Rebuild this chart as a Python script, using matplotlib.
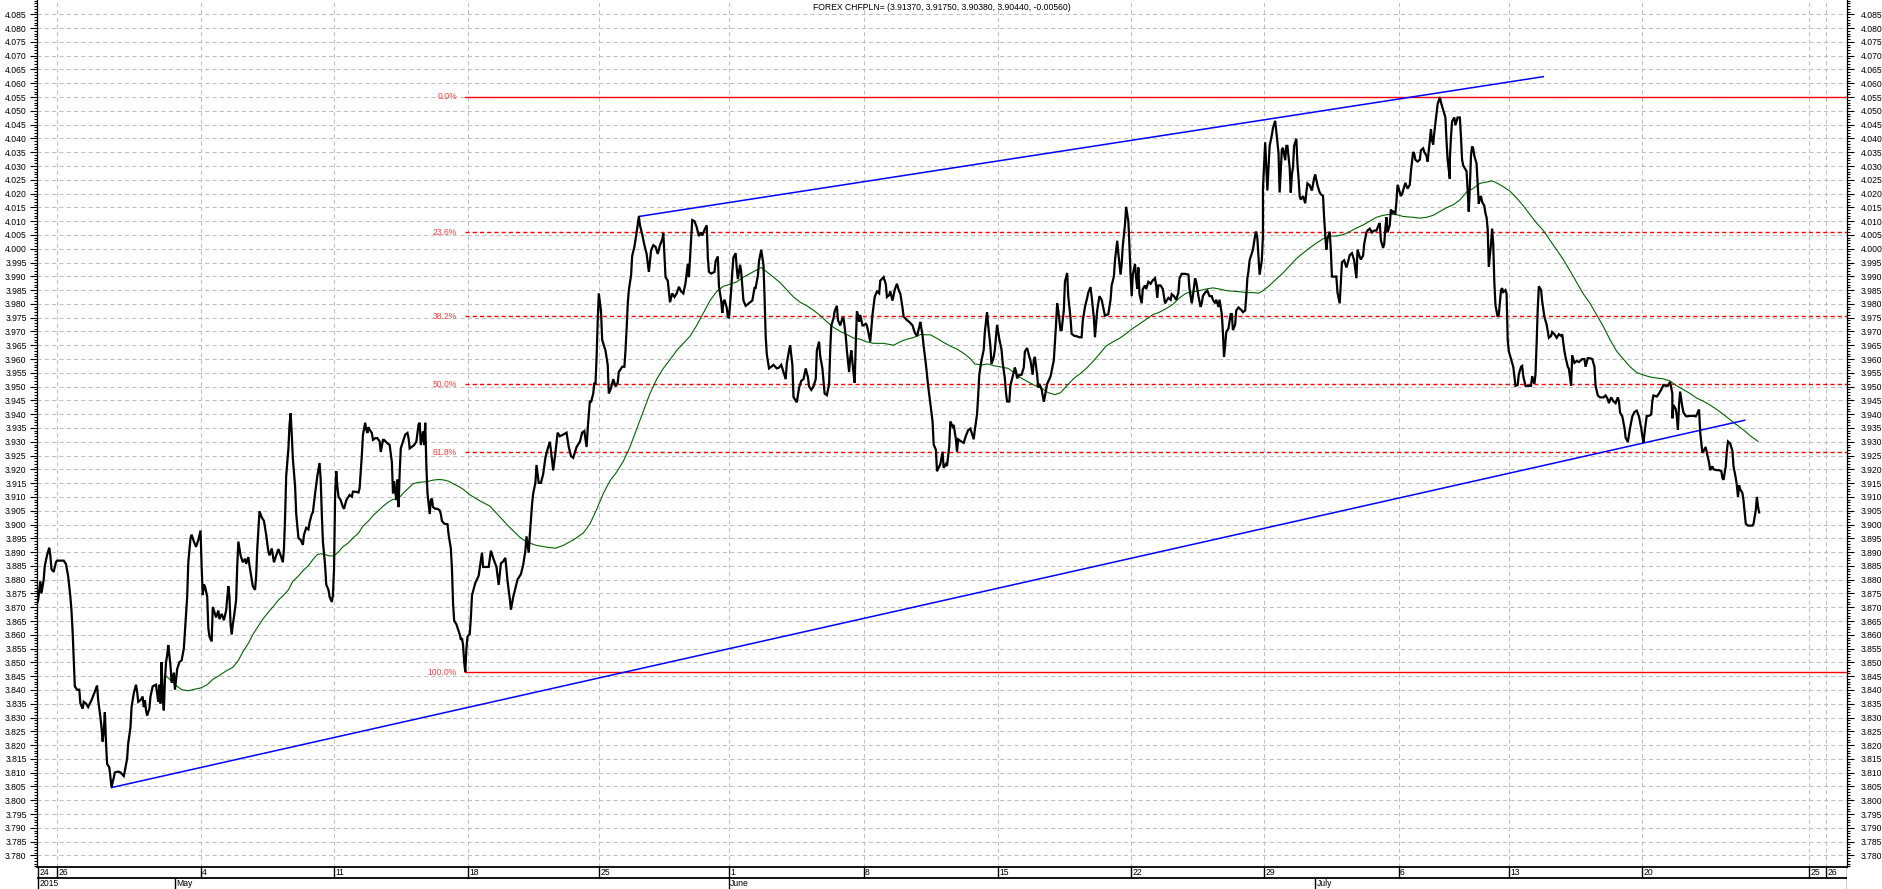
import matplotlib.pyplot as plt
from matplotlib.ticker import MultipleLocator, FixedLocator, FormatStrFormatter

plt.rcParams['font.family'] = ['Liberation Sans', 'DejaVu Sans']

# hourly bars, x = bar number since the first bar (24 Apr 2015)
# (bar, close), split by stretch of time
close_apr_may = [
    (0, 3.8713), (1, 3.8726), (3, 3.8794), (4, 3.8750), (6, 3.8800), (7, 3.8850), (9, 3.8888),
    (11, 3.8916), (12, 3.8888), (13, 3.8838), (15, 3.8828), (17, 3.8863), (18, 3.8869), (24, 3.8869),
    (26, 3.8857), (28, 3.8813), (30, 3.8738), (31, 3.8688), (32, 3.8613), (33, 3.8513), (34, 3.8413),
    (36, 3.8401), (38, 3.8401), (39, 3.8351), (41, 3.8332), (42, 3.8357), (44, 3.8351), (46, 3.8338),
    (49, 3.8363), (52, 3.8394), (54, 3.8416), (55, 3.8363), (57, 3.8301), (58, 3.8263), (59, 3.8213),
    (60, 3.8251), (61, 3.8319), (62, 3.8213), (63, 3.8132), (65, 3.8119), (66, 3.8082), (67, 3.8048),
    (69, 3.8082), (70, 3.8101), (73, 3.8104), (75, 3.8101), (78, 3.8088), (79, 3.8107), (81, 3.8151),
    (82, 3.8207), (84, 3.8263), (85, 3.8338), (87, 3.8388), (89, 3.8419), (90, 3.8394), (91, 3.8357),
    (93, 3.8363), (95, 3.8376), (96, 3.8338), (97, 3.8363), (98, 3.8326), (99, 3.8307), (101, 3.8332),
    (102, 3.8376), (104, 3.8413), (107, 3.8419), (109, 3.8357), (110, 3.8419), (111, 3.8351),
    (112, 3.8501), (113, 3.8376), (114, 3.8326), (115, 3.8438), (116, 3.8501), (117, 3.8526),
    (118, 3.8563), (120, 3.8488), (121, 3.8426), (123, 3.8463), (124, 3.8401), (126, 3.8476),
    (127, 3.8488), (128, 3.8501), (130, 3.8507), (132, 3.8551), (133, 3.8613), (134, 3.8676),
    (135, 3.8738), (136, 3.8863), (138, 3.8951), (139, 3.8963), (141, 3.8938), (143, 3.8919),
    (145, 3.8944), (147, 3.8978), (148, 3.8844), (149, 3.8744), (150, 3.8782), (151, 3.8776),
    (153, 3.8738), (154, 3.8626), (155, 3.8594), (157, 3.8576), (158, 3.8701), (160, 3.8676),
    (161, 3.8663), (163, 3.8688), (164, 3.8657), (166, 3.8676), (168, 3.8653), (170, 3.8688),
    (172, 3.8776), (173, 3.8738), (174, 3.8638), (175, 3.8601), (176, 3.8638), (177, 3.8663),
    (179, 3.8726), (180, 3.8851), (181, 3.8938), (183, 3.8888), (185, 3.8863), (187, 3.8876),
    (188, 3.8857), (190, 3.8882), (191, 3.8851), (193, 3.8801), (194, 3.8776), (196, 3.8763),
    (197, 3.8813), (198, 3.8913), (200, 3.9048), (202, 3.9026), (204, 3.9013), (206, 3.8963),
    (208, 3.8901), (209, 3.8888), (211, 3.8913), (213, 3.8863), (215, 3.8888), (217, 3.8911),
    (219, 3.8888), (221, 3.8863), (222, 3.8913), (223, 3.9026), (224, 3.9176), (226, 3.9276),
    (227, 3.9363), (228, 3.9403), (229, 3.9326), (230, 3.9238), (232, 3.9138), (233, 3.9038),
    (235, 3.8951), (237, 3.8944), (239, 3.8926), (240, 3.8963), (242, 3.8988), (244, 3.8982),
    (245, 3.9007), (247, 3.9038), (248, 3.9044), (250, 3.9113), (252, 3.9176), (254, 3.9223),
    (255, 3.9163), (256, 3.9038), (257, 3.8938), (259, 3.8851), (260, 3.8782), (262, 3.8763),
    (263, 3.8738), (265, 3.8719), (266, 3.8744), (267, 3.8838), (268, 3.9113), (269, 3.9194),
    (270, 3.9138), (271, 3.9101), (273, 3.9088), (275, 3.9063), (276, 3.9057), (278, 3.9088),
    (280, 3.9101), (281, 3.9107), (283, 3.9101), (284, 3.9119), (286, 3.9119), (289, 3.9116),
    (290, 3.9132), (292, 3.9251), (293, 3.9326), (295, 3.9369), (296, 3.9344), (297, 3.9332),
    (298, 3.9353), (299, 3.9344), (301, 3.9332), (302, 3.9307), (304, 3.9313), (306, 3.9313),
    (308, 3.9301), (309, 3.9263), (311, 3.9307), (312, 3.9307), (314, 3.9298), (317, 3.9288),
    (319, 3.9226), (320, 3.9113), (321, 3.9157), (323, 3.9088), (324, 3.9163), (325, 3.9063),
    (326, 3.9188), (327, 3.9276), (329, 3.9301), (331, 3.9326), (333, 3.9332), (334, 3.9313),
    (335, 3.9276), (337, 3.9282), (339, 3.9288), (341, 3.9301), (343, 3.9363), (344, 3.9369),
    (345, 3.9288), (347, 3.9338), (348, 3.9288), (349, 3.9369), (350, 3.9213), (351, 3.9113),
    (353, 3.9038), (354, 3.9088), (355, 3.9094), (356, 3.9063), (358, 3.9057), (360, 3.9057),
    (362, 3.9051), (363, 3.9038), (364, 3.9013), (366, 3.9003), (369, 3.9001), (370, 3.8963),
    (372, 3.8913), (373, 3.8838), (374, 3.8713), (375, 3.8651), (377, 3.8638), (378, 3.8626),
    (380, 3.8601), (381, 3.8582), (382, 3.8588), (383, 3.8563), (384, 3.8501), (385, 3.8465),
    (386, 3.8551), (387, 3.8594), (389, 3.8603), (390, 3.8663),
]

close_may_jun = [
    (391, 3.8743), (394, 3.8788), (397, 3.8814), (400, 3.8898), (401, 3.8846), (406, 3.8846),
    (408, 3.8905), (410, 3.8879), (413, 3.8846), (415, 3.8781), (417, 3.8859), (419, 3.8866),
    (421, 3.8879), (423, 3.8794), (425, 3.8730), (426, 3.8691), (428, 3.8736), (430, 3.8768),
    (432, 3.8801), (435, 3.8820), (437, 3.8853), (439, 3.8905), (440, 3.8957), (442, 3.8898),
    (443, 3.8963), (445, 3.9073), (446, 3.9112), (448, 3.9151), (449, 3.9216), (451, 3.9151),
    (453, 3.9151), (455, 3.9183), (457, 3.9242), (459, 3.9274), (461, 3.9300), (462, 3.9268),
    (464, 3.9196), (466, 3.9261), (468, 3.9333), (470, 3.9320), (473, 3.9326), (476, 3.9333),
    (478, 3.9281), (480, 3.9248), (482, 3.9242), (485, 3.9281), (488, 3.9300), (490, 3.9333),
    (492, 3.9339), (494, 3.9281), (495, 3.9346), (497, 3.9449), (498, 3.9443), (500, 3.9475),
    (501, 3.9514), (502, 3.9508), (503, 3.9605), (504, 3.9735), (505, 3.9838), (507, 3.9773),
    (508, 3.9670), (511, 3.9631), (513, 3.9579), (514, 3.9475), (516, 3.9495), (518, 3.9527),
    (520, 3.9501), (522, 3.9514), (523, 3.9553), (526, 3.9572), (528, 3.9572), (529, 3.9631),
    (530, 3.9709), (531, 3.9799), (532, 3.9851), (534, 3.9903), (535, 3.9974), (537, 4.0007),
    (539, 4.0059), (541, 4.0117), (542, 4.0085), (544, 4.0052), (546, 4.0013), (548, 3.9981),
    (550, 3.9916), (552, 3.9994), (554, 4.0013), (556, 4.0007), (558, 3.9981), (560, 4.0013),
    (562, 4.0033), (563, 4.0056), (565, 3.9897), (567, 3.9884), (569, 3.9806), (571, 3.9838),
    (573, 3.9825), (575, 3.9838), (577, 3.9862), (579, 3.9845), (581, 3.9838), (583, 3.9877),
    (585, 3.9945), (586, 3.9897), (587, 3.9968), (588, 4.0046), (589, 4.0104), (591, 4.0100),
    (593, 4.0078), (595, 4.0046), (597, 4.0059), (598, 4.0048), (600, 4.0069), (602, 4.0085),
    (603, 3.9968), (604, 3.9916), (606, 3.9910), (609, 3.9916), (610, 3.9955), (612, 3.9972),
    (613, 3.9864), (615, 3.9812), (616, 3.9767), (617, 3.9806), (618, 3.9815), (620, 3.9786),
    (621, 3.9754), (622, 3.9748), (624, 3.9851), (625, 3.9916), (626, 3.9968), (628, 3.9984),
    (629, 3.9929), (630, 3.9890), (632, 3.9942), (633, 3.9916), (635, 3.9812), (637, 3.9793),
    (639, 3.9799), (641, 3.9806), (643, 3.9812), (645, 3.9858), (646, 3.9858), (648, 3.9903),
    (649, 3.9955), (651, 3.9996), (653, 3.9942), (654, 3.9825), (655, 3.9683), (656, 3.9618),
    (658, 3.9566), (660, 3.9572), (662, 3.9579), (665, 3.9566), (667, 3.9569), (669, 3.9579),
    (671, 3.9553), (673, 3.9527), (674, 3.9585), (676, 3.9631), (677, 3.9650), (679, 3.9579),
    (680, 3.9462), (682, 3.9449), (683, 3.9443), (685, 3.9495), (687, 3.9521), (689, 3.9527),
    (691, 3.9566), (693, 3.9534), (694, 3.9501), (696, 3.9488), (698, 3.9501), (700, 3.9527),
    (701, 3.9631), (703, 3.9663), (704, 3.9611), (706, 3.9566), (708, 3.9475), (710, 3.9469),
    (712, 3.9508), (713, 3.9631), (714, 3.9722), (716, 3.9748), (717, 3.9773), (719, 3.9793),
    (720, 3.9741), (722, 3.9722), (724, 3.9748), (725, 3.9748), (727, 3.9683), (728, 3.9631),
    (730, 3.9553), (731, 3.9605), (732, 3.9631), (734, 3.9547), (735, 3.9514), (736, 3.9657),
    (737, 3.9773), (738, 3.9760), (739, 3.9735), (740, 3.9760), (742, 3.9722), (743, 3.9722),
    (745, 3.9728), (746, 3.9722), (748, 3.9683), (749, 3.9663), (751, 3.9760), (753, 3.9825),
    (755, 3.9845), (757, 3.9838), (758, 3.9884), (761, 3.9897), (763, 3.9871), (764, 3.9825),
    (766, 3.9832), (767, 3.9845), (769, 3.9812), (771, 3.9851), (773, 3.9873), (775, 3.9845),
    (776, 3.9838), (778, 3.9786), (779, 3.9754), (782, 3.9741), (784, 3.9735), (787, 3.9722),
    (789, 3.9696), (791, 3.9683), (793, 3.9715), (794, 3.9735),
]

close_jun_jul = [
    (796, 3.9686), (797, 3.9647), (799, 3.9582), (801, 3.9504), (803, 3.9439), (805, 3.9374),
    (806, 3.9290), (808, 3.9271), (809, 3.9193), (812, 3.9219), (814, 3.9264), (815, 3.9206),
    (817, 3.9219), (818, 3.9212), (820, 3.9283), (821, 3.9374), (823, 3.9355), (824, 3.9361),
    (826, 3.9309), (827, 3.9264), (828, 3.9309), (830, 3.9303), (833, 3.9296), (835, 3.9322),
    (837, 3.9342), (839, 3.9348), (841, 3.9322), (842, 3.9309), (843, 3.9342), (845, 3.9400),
    (846, 3.9465), (847, 3.9543), (849, 3.9595), (851, 3.9634), (852, 3.9698), (854, 3.9770),
    (855, 3.9724), (857, 3.9647), (858, 3.9582), (860, 3.9608), (861, 3.9634), (863, 3.9724),
    (865, 3.9673), (867, 3.9634), (868, 3.9588), (870, 3.9530), (871, 3.9478), (872, 3.9446),
    (874, 3.9446), (875, 3.9504), (877, 3.9536), (879, 3.9569), (880, 3.9556), (881, 3.9530),
    (883, 3.9543), (885, 3.9543), (887, 3.9569), (888, 3.9627), (890, 3.9640), (892, 3.9608),
    (893, 3.9595), (895, 3.9543), (896, 3.9595), (897, 3.9608), (899, 3.9543), (900, 3.9497),
    (901, 3.9510), (903, 3.9491), (905, 3.9446), (906, 3.9465), (908, 3.9510), (911, 3.9536),
    (912, 3.9556), (914, 3.9595), (915, 3.9660), (916, 3.9724), (917, 3.9802), (918, 3.9776),
    (920, 3.9705), (921, 3.9705), (923, 3.9776), (924, 3.9880), (926, 3.9912), (927, 3.9828),
    (929, 3.9750), (930, 3.9692), (932, 3.9685), (935, 3.9682), (937, 3.9679), (939, 3.9679),
    (940, 3.9737), (942, 3.9789), (944, 3.9822), (945, 3.9841), (947, 3.9861), (948, 3.9828),
    (950, 3.9750), (951, 3.9679), (953, 3.9776), (955, 3.9828), (957, 3.9815), (959, 3.9776),
    (960, 3.9757), (963, 3.9763), (965, 3.9815), (966, 3.9867), (968, 3.9899), (969, 3.9958),
    (971, 4.0029), (972, 3.9984), (973, 3.9945), (974, 3.9906), (975, 3.9945), (976, 4.0010),
    (978, 4.0088), (979, 4.0152), (981, 4.0100), (982, 4.0010), (983, 3.9906), (984, 3.9828),
    (985, 3.9906), (987, 3.9945), (988, 3.9893), (989, 3.9854), (990, 3.9932), (991, 3.9835),
    (993, 3.9802), (994, 3.9854), (996, 3.9867), (997, 3.9854), (999, 3.9880), (1001, 3.9873),
    (1003, 3.9886), (1005, 3.9893), (1006, 3.9867), (1007, 3.9822), (1008, 3.9867), (1010, 3.9867),
    (1012, 3.9854), (1014, 3.9802), (1015, 3.9809), (1017, 3.9822), (1019, 3.9815), (1020, 3.9835),
    (1022, 3.9828), (1024, 3.9815), (1026, 3.9841), (1027, 3.9893), (1029, 3.9909), (1032, 3.9909),
    (1035, 3.9906), (1036, 3.9854), (1038, 3.9802), (1039, 3.9828), (1041, 3.9893), (1042, 3.9880),
    (1044, 3.9828), (1046, 3.9789), (1047, 3.9802), (1048, 3.9828), (1050, 3.9841), (1052, 3.9848),
    (1054, 3.9828), (1056, 3.9828), (1057, 3.9815), (1059, 3.9802), (1060, 3.9815), (1062, 3.9789),
    (1063, 3.9815), (1065, 3.9763), (1066, 3.9698), (1067, 3.9608), (1068, 3.9647), (1069, 3.9698),
    (1071, 3.9711), (1073, 3.9763), (1074, 3.9763), (1075, 3.9705), (1077, 3.9724), (1078, 3.9776),
    (1080, 3.9787), (1083, 3.9776), (1084, 3.9770), (1086, 3.9776), (1087, 3.9828), (1088, 3.9893),
    (1089, 3.9919), (1090, 3.9958), (1092, 3.9984), (1093, 3.9997), (1095, 4.0049), (1096, 4.0062),
    (1097, 4.0036), (1098, 3.9971), (1099, 3.9906), (1101, 3.9958), (1102, 4.0049), (1102, 4.0217),
    (1104, 4.0386), (1105, 4.0295), (1106, 4.0211), (1107, 4.0295), (1108, 4.0373), (1110, 4.0412),
    (1111, 4.0438), (1113, 4.0464), (1114, 4.0425), (1116, 4.0347), (1117, 4.0204), (1118, 4.0282),
    (1119, 4.0360), (1120, 4.0366), (1122, 4.0321), (1123, 4.0373), (1124, 4.0373), (1126, 4.0295),
    (1127, 4.0204), (1128, 4.0269), (1129, 4.0295), (1130, 4.0373), (1132, 4.0399), (1133, 4.0308),
    (1134, 4.0256), (1135, 4.0191), (1136, 4.0178), (1138, 4.0191), (1140, 4.0165), (1141, 4.0204),
    (1142, 4.0237), (1144, 4.0230), (1146, 4.0211), (1148, 4.0256), (1149, 4.0269), (1151, 4.0230),
    (1153, 4.0204), (1154, 4.0198), (1156, 4.0191), (1157, 4.0113), (1158, 4.0049), (1159, 3.9997),
    (1160, 4.0036), (1162, 4.0062), (1163, 3.9997), (1164, 3.9899), (1166, 3.9899), (1168, 3.9899),
    (1169, 3.9841), (1171, 3.9802), (1172, 3.9880), (1173, 3.9951), (1175, 3.9958), (1177, 3.9932),
    (1178, 3.9945), (1180, 3.9977), (1182, 3.9984), (1184, 3.9958), (1186, 3.9893), (1187, 3.9997),
    (1189, 3.9971),
]

close_jul = [
    (1190, 3.9961), (1192, 3.9975), (1193, 4.0017), (1195, 4.0059), (1196, 4.0066), (1198, 4.0073),
    (1200, 4.0059), (1202, 4.0066), (1204, 4.0066), (1206, 4.0086), (1207, 4.0093), (1208, 4.0031),
    (1210, 4.0003), (1211, 4.0017), (1212, 4.0073), (1213, 4.0114), (1214, 4.0059), (1216, 4.0086),
    (1217, 4.0142), (1218, 4.0128), (1219, 4.0135), (1221, 4.0128), (1222, 4.0170), (1223, 4.0232),
    (1225, 4.0205), (1226, 4.0191), (1227, 4.0198), (1229, 4.0225), (1230, 4.0239), (1232, 4.0218),
    (1234, 4.0232), (1235, 4.0281), (1237, 4.0351), (1238, 4.0344), (1239, 4.0323), (1241, 4.0316),
    (1243, 4.0323), (1244, 4.0357), (1246, 4.0364), (1247, 4.0351), (1249, 4.0337), (1250, 4.0316),
    (1252, 4.0392), (1253, 4.0434), (1254, 4.0392), (1255, 4.0378), (1256, 4.0420), (1258, 4.0489),
    (1259, 4.0524), (1261, 4.0550), (1262, 4.0531), (1264, 4.0503), (1266, 4.0476), (1267, 4.0392),
    (1268, 4.0323), (1270, 4.0253), (1270, 4.0323), (1271, 4.0406), (1272, 4.0462), (1274, 4.0476),
    (1275, 4.0448), (1277, 4.0476), (1279, 4.0476), (1280, 4.0406), (1281, 4.0323), (1282, 4.0302),
    (1283, 4.0295), (1285, 4.0281), (1286, 4.0212), (1287, 4.0135), (1288, 4.0225), (1289, 4.0337),
    (1290, 4.0371), (1291, 4.0364), (1292, 4.0337), (1294, 4.0309), (1295, 4.0239), (1296, 4.0163),
    (1297, 4.0184), (1298, 4.0191), (1299, 4.0170), (1301, 4.0156), (1302, 4.0128), (1303, 4.0114),
    (1304, 4.0073), (1305, 3.9934), (1307, 4.0017), (1308, 4.0073), (1309, 4.0017), (1310, 3.9878),
    (1311, 3.9795), (1313, 3.9753), (1314, 3.9760), (1316, 3.9850), (1317, 3.9857), (1318, 3.9843),
    (1320, 3.9850), (1321, 3.9836), (1322, 3.9670), (1323, 3.9628), (1325, 3.9600), (1327, 3.9572),
    (1329, 3.9503), (1331, 3.9506), (1332, 3.9545), (1334, 3.9572), (1335, 3.9575), (1336, 3.9538),
    (1338, 3.9503), (1340, 3.9503), (1343, 3.9503), (1344, 3.9538), (1346, 3.9510), (1347, 3.9545),
    (1348, 3.9656), (1349, 3.9781), (1350, 3.9864), (1352, 3.9850), (1353, 3.9809), (1355, 3.9753),
    (1357, 3.9725), (1359, 3.9677), (1361, 3.9684), (1362, 3.9698), (1364, 3.9690), (1366, 3.9677),
    (1368, 3.9690), (1370, 3.9684), (1371, 3.9690), (1373, 3.9628), (1374, 3.9607), (1376, 3.9572),
    (1377, 3.9565), (1379, 3.9503), (1380, 3.9614), (1382, 3.9586), (1384, 3.9593), (1386, 3.9589),
    (1389, 3.9600), (1391, 3.9600), (1392, 3.9572), (1394, 3.9603), (1396, 3.9603), (1398, 3.9600),
    (1400, 3.9572), (1401, 3.9503), (1403, 3.9468), (1405, 3.9461), (1408, 3.9461), (1410, 3.9468),
    (1412, 3.9454), (1413, 3.9440), (1415, 3.9461), (1417, 3.9447), (1419, 3.9440), (1421, 3.9461),
    (1422, 3.9447), (1423, 3.9406), (1425, 3.9392), (1427, 3.9350), (1428, 3.9315), (1430, 3.9299),
    (1432, 3.9350), (1434, 3.9392), (1436, 3.9408), (1438, 3.9413), (1440, 3.9392), (1442, 3.9350),
    (1443, 3.9322), (1444, 3.9297), (1446, 3.9364), (1447, 3.9394), (1449, 3.9394), (1451, 3.9399),
    (1452, 3.9447), (1453, 3.9468), (1456, 3.9464), (1458, 3.9475), (1460, 3.9489), (1462, 3.9506),
    (1464, 3.9503), (1466, 3.9503), (1467, 3.9510), (1468, 3.9517), (1470, 3.9475), (1470, 3.9385),
    (1471, 3.9433), (1473, 3.9419), (1474, 3.9392), (1475, 3.9343), (1476, 3.9433), (1477, 3.9482),
    (1479, 3.9426), (1480, 3.9406), (1482, 3.9394), (1483, 3.9392), (1486, 3.9394), (1489, 3.9394),
    (1491, 3.9392), (1492, 3.9399), (1494, 3.9417), (1495, 3.9336), (1497, 3.9260), (1498, 3.9267),
    (1500, 3.9281), (1501, 3.9260), (1503, 3.9225), (1504, 3.9197), (1506, 3.9211), (1507, 3.9200),
    (1510, 3.9197), (1512, 3.9197), (1514, 3.9194), (1515, 3.9169), (1516, 3.9162), (1518, 3.9211),
    (1519, 3.9267), (1520, 3.9301), (1522, 3.9294), (1524, 3.9267), (1525, 3.9211), (1527, 3.9169),
    (1528, 3.9142), (1529, 3.9100), (1530, 3.9142), (1531, 3.9128), (1533, 3.9114), (1534, 3.9086),
    (1535, 3.9044), (1536, 3.9003), (1538, 3.8996), (1540, 3.8996), (1542, 3.8996), (1543, 3.9003),
    (1545, 3.9051), (1546, 3.9100), (1547, 3.9065), (1548, 3.9044),
]

# moving average (green)
ma_bar = [116, 121, 126, 130, 136, 142, 147, 153, 158, 164, 170, 176, 181, 185, 190, 194, 199, 203,
          208, 212, 217, 221, 226, 230, 235, 239, 244, 248, 252, 255, 259, 263, 267, 271, 275, 280,
          284, 289, 293, 298, 302, 307, 311, 316, 320, 325, 329, 334, 338, 343, 347, 352, 356, 361,
          365, 370, 374, 379, 383, 389, 398, 407, 416, 425, 434, 440, 449, 458, 466, 473, 482, 491,
          497, 503, 509, 515, 521, 527, 533, 539, 545, 551, 557, 563, 569, 575, 581, 587, 593, 599,
          605, 611, 617, 623, 629, 635, 641, 647, 651, 656, 662, 668, 674, 680, 686, 692, 698, 704,
          710, 716, 722, 728, 734, 740, 746, 752, 761, 770, 776, 782, 788, 794, 797, 803, 809, 815,
          821, 827, 833, 839, 843, 849, 855, 861, 867, 873, 879, 885, 891, 897, 903, 909, 915, 920,
          926, 932, 938, 944, 950, 956, 961, 967, 973, 979, 985, 991, 997, 1003, 1009, 1015, 1021,
          1027, 1033, 1039, 1045, 1051, 1057, 1063, 1069, 1075, 1081, 1087, 1093, 1098, 1102, 1108,
          1114, 1120, 1126, 1132, 1138, 1144, 1150, 1156, 1162, 1168, 1174, 1180, 1186, 1192, 1198,
          1204, 1210, 1216, 1222, 1228, 1237, 1243, 1249, 1255, 1261, 1267, 1273, 1279, 1285, 1291,
          1297, 1303, 1308, 1312, 1318, 1324, 1330, 1336, 1342, 1348, 1354, 1360, 1366, 1372, 1378,
          1384, 1390, 1396, 1402, 1408, 1414, 1420, 1426, 1432, 1438, 1444, 1450, 1456, 1462, 1468,
          1474, 1480, 1486, 1492, 1498, 1504, 1510, 1516, 1522, 1527, 1534, 1540, 1547]
ma_val = [3.8451, 3.8432, 3.8413, 3.8401, 3.8397, 3.8403, 3.8407, 3.8419, 3.8438, 3.8453, 3.8469,
          3.8482, 3.8507, 3.8538, 3.8569, 3.8601, 3.8632, 3.8657, 3.8682, 3.8701, 3.8726, 3.8741,
          3.8763, 3.8794, 3.8813, 3.8832, 3.8851, 3.8873, 3.8891, 3.8894, 3.8891, 3.8886, 3.8886,
          3.8901, 3.8919, 3.8934, 3.8951, 3.8969, 3.8994, 3.9013, 3.9032, 3.9051, 3.9066, 3.9082,
          3.9091, 3.9094, 3.9113, 3.9132, 3.9148, 3.9153, 3.9154, 3.9157, 3.9161, 3.9163, 3.9162,
          3.9157, 3.9148, 3.9138, 3.9128, 3.9108, 3.9086, 3.9067, 3.9028, 3.8989, 3.8954, 3.8937,
          3.8924, 3.8918, 3.8914, 3.8924, 3.8944, 3.8969, 3.9002, 3.9054, 3.9112, 3.9158, 3.9190,
          3.9229, 3.9281, 3.9346, 3.9410, 3.9475, 3.9527, 3.9566, 3.9598, 3.9631, 3.9657, 3.9683,
          3.9722, 3.9767, 3.9812, 3.9845, 3.9864, 3.9871, 3.9880, 3.9897, 3.9910, 3.9923, 3.9932,
          3.9916, 3.9897, 3.9877, 3.9851, 3.9825, 3.9806, 3.9793, 3.9777, 3.9758, 3.9735, 3.9715,
          3.9700, 3.9689, 3.9676, 3.9672, 3.9662, 3.9657, 3.9657, 3.9650, 3.9663, 3.9672, 3.9678,
          3.9689, 3.9688, 3.9688, 3.9675, 3.9660, 3.9647, 3.9636, 3.9621, 3.9601, 3.9582, 3.9579,
          3.9582, 3.9575, 3.9571, 3.9566, 3.9549, 3.9530, 3.9517, 3.9504, 3.9494, 3.9478, 3.9471,
          3.9478, 3.9504, 3.9530, 3.9548, 3.9569, 3.9595, 3.9623, 3.9647, 3.9662, 3.9675, 3.9692,
          3.9711, 3.9727, 3.9744, 3.9761, 3.9770, 3.9783, 3.9798, 3.9822, 3.9839, 3.9844, 3.9848,
          3.9854, 3.9858, 3.9854, 3.9848, 3.9846, 3.9844, 3.9841, 3.9841, 3.9839, 3.9848, 3.9867,
          3.9890, 3.9912, 3.9938, 3.9964, 3.9984, 4.0003, 4.0020, 4.0036, 4.0046, 4.0046, 4.0051,
          4.0062, 4.0075, 4.0086, 4.0100, 4.0114, 4.0121, 4.0125, 4.0124, 4.0117, 4.0114, 4.0111,
          4.0114, 4.0121, 4.0135, 4.0149, 4.0159, 4.0177, 4.0205, 4.0219, 4.0237, 4.0242, 4.0246,
          4.0239, 4.0225, 4.0209, 4.0184, 4.0156, 4.0124, 4.0093, 4.0066, 4.0031, 3.9996, 3.9961,
          3.9920, 3.9878, 3.9836, 3.9802, 3.9760, 3.9718, 3.9670, 3.9628, 3.9600, 3.9572, 3.9551,
          3.9542, 3.9535, 3.9531, 3.9528, 3.9520, 3.9503, 3.9489, 3.9475, 3.9458, 3.9447, 3.9433,
          3.9417, 3.9399, 3.9380, 3.9364, 3.9343, 3.9322, 3.9301]

# trend channel (blue)
upper_trend_bar = [541, 1354]
upper_trend_val = [4.0117, 4.0624]
lower_trend_bar = [67, 1535]
lower_trend_val = [3.8046, 3.9378]

# fibonacci retracement, drawn from the low bar to the right edge
fib_start = 385
fib_names = ['0.0%', '23.6%', '38.2%', '50.0%', '61.8%', '100.0%']
fib_vals = [4.0552, 4.0060, 3.9755, 3.9508, 3.9262, 3.8465]

# price scale labels
price_ticks = [round(3.780 + 0.005 * i, 3) for i in range(62)]

# date strip
day_bars = [1, 18, 147, 267, 387, 505, 622, 743, 863.5, 983.4, 1103, 1224, 1323, 1443, 1593, 1608]
day_labels = ['24', '26', '4', '11', '18', '25', '1', '8', '15', '22', '29', '6', '13', '20', '25', '26']
month_bars = [1, 123.6, 622, 1149]
month_labels = ['2015', 'May', 'June', 'July']

title = 'FOREX CHFPLN= (3.91370, 3.91750, 3.90380, 3.90440, -0.00560)'

W, H = 1883, 889
x_end = 1627
y_lo, y_hi = 3.7758, 4.0902
fs = 6.2
grid_kw = dict(color='#c0c0c0', linestyle=(0, (4, 3)), linewidth=0.75)


def price_scale(a, pad, **kw):
    a.set_ylim(y_lo, y_hi)
    a.yaxis.set_major_locator(FixedLocator(price_ticks))
    a.yaxis.set_minor_locator(MultipleLocator(0.001))
    a.yaxis.set_major_formatter(FormatStrFormatter('%.3f'))
    a.tick_params(axis='y', which='major', length=5, width=0.8, pad=pad, labelsize=fs, **kw)
    a.tick_params(axis='y', which='minor', length=2.5, width=0.8, **kw)


fig = plt.figure(figsize=(W / 100, H / 100), dpi=100)
ax = fig.add_axes([37 / W, 1 - 867 / H, 1810 / W, 867 / H])
ax.set_xlim(0, x_end)

# week grid (vertical) + price grid (horizontal)
ax.set_xticks(day_bars[1:])
ax.tick_params(axis='x', length=0, labelbottom=False)
ax.xaxis.grid(True, **grid_kw)
price_scale(ax, 2.5, right=False)
ax.yaxis.grid(True, which='major', **grid_kw)
ax.set_axisbelow(True)

for side in ['top', 'right']:
    ax.spines[side].set_visible(False)
ax.spines['left'].set_linewidth(0.9)
ax.spines['bottom'].set_linewidth(1.3)

# right hand price scale
rax = ax.twinx()
price_scale(rax, 5)
for side in ['top', 'left', 'bottom']:
    rax.spines[side].set_visible(False)
rax.spines['right'].set_linewidth(0.9)

# fibonacci levels
for name, v in zip(fib_names, fib_vals):
    ls = '-' if name in ('0.0%', '100.0%') else (0, (3, 2.2))
    ax.plot([fib_start, x_end], [v, v], color='#ff0000', lw=1.0, linestyle=ls, zorder=2)
    ax.annotate(name, (fib_start, v), xytext=(-6, 0), textcoords='offset points',
                ha='right', va='center', fontsize=fs, color='#ff4040')

ax.plot(ma_bar, ma_val, color='#006400', lw=0.8, zorder=3)
ax.plot(upper_trend_bar, upper_trend_val, color='#0000ff', lw=1.1, zorder=3)
ax.plot(lower_trend_bar, lower_trend_val, color='#0000ff', lw=1.1, zorder=3)

close = close_apr_may + close_may_jun + close_jun_jul + close_jul
ax.plot([b for b, _ in close], [c for _, c in close], color='black', lw=1.6, zorder=4,
        solid_joinstyle='miter')

ax.text(0.5, 1 - 7 / 867, title, transform=ax.transAxes, ha='center', va='center', fontsize=fs)

# date strip under the chart
sax = fig.add_axes([37 / W, 0, 1810 / W, 22 / H])
sax.set_xlim(0, x_end)
sax.set_ylim(0, 2)
sax.axis('off')
sax.plot([day_bars[0], x_end], [1, 1], color='black', lw=1.3)
sax.vlines(day_bars + [x_end], 1, 2, color='black', lw=1.0)
sax.vlines(month_bars + [x_end], 0, 1, color='black', lw=1.0)
for b, lab in zip(day_bars, day_labels):
    sax.annotate(lab, (b, 1.5), xytext=(1, 0), textcoords='offset points',
                 ha='left', va='center', fontsize=fs)
for b, lab in zip(month_bars, month_labels):
    sax.annotate(lab, (b, 0.5), xytext=(1, 0), textcoords='offset points',
                 ha='left', va='center', fontsize=fs)

fig.savefig('out.png', dpi=100)
